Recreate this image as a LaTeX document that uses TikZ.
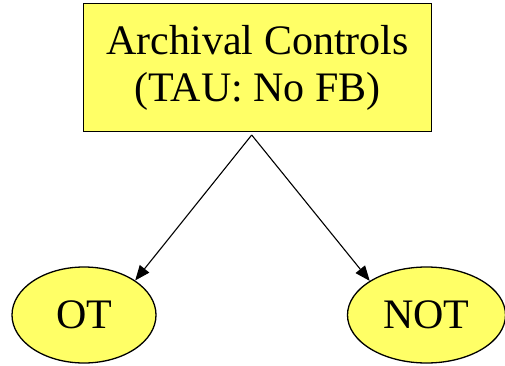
\documentclass[tikz,border=0pt]{standalone}
\usepackage{fontspec}
\setmainfont{Liberation Serif}
\usetikzlibrary{shapes.geometric,arrows.meta}
\definecolor{boxyellow}{HTML}{FFFF66}
\tikzset{
  box/.style={draw=black, line width=1.5pt, fill=boxyellow, rectangle, align=center,
    minimum width=348pt, minimum height=128pt, inner sep=0pt,
    font=\fontsize{42}{47}\selectfont},
  oval/.style={draw=black, line width=1.3pt, fill=boxyellow, ellipse, inner sep=0pt,
    minimum height=96pt, font=\fontsize{42}{47}\selectfont},
  link/.style={line width=1.1pt, -{Triangle[length=15pt,width=12pt]}}
}
\begin{document}
\begin{tikzpicture}
\useasboundingbox (0,0) rectangle (505pt,-366pt);
\node[box] (arch) at (257.6pt,-67.5pt) {Archival Controls\\(TAU: No FB)};
\node[oval, minimum width=144pt] (ot) at (84pt,-315pt) {OT};
\node[oval, minimum width=158pt] (not) at (426.5pt,-315pt) {NOT};
\coordinate (src) at (251.7pt,-135pt);
\draw[link] (src) -- (ot.34);
\draw[link] (src) -- (not.149);
\end{tikzpicture}
\end{document}
